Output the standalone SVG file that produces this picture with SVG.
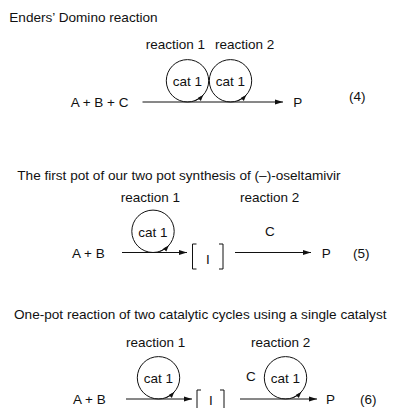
<svg xmlns="http://www.w3.org/2000/svg" width="395" height="408" viewBox="0 0 395 408">
<style>
text{font-family:"Liberation Sans",Arial,sans-serif;font-size:13.5px;fill:#111}
.t{font-size:13.6px}
.m{text-anchor:middle}
.ln{stroke:#111;stroke-width:1;fill:none}
</style>
<defs>
<marker id="ah" markerUnits="userSpaceOnUse" markerWidth="9" markerHeight="6" refX="8.5" refY="2.6" orient="auto">
<path d="M0,0 L8.5,2.6 L0,5.2 z" fill="#111"/>
</marker>
<marker id="sh" markerUnits="userSpaceOnUse" markerWidth="7" markerHeight="5" refX="6" refY="2.2" orient="auto">
<path d="M0,0 L6,2.2 L0,4.4 z" fill="#111"/>
</marker>
</defs>
<rect width="395" height="408" fill="#fff"/>
<g id="titles">
<text class="t" x="9.3" y="21.5">Enders’ Domino reaction</text>
<text class="t" x="17.3" y="179.5">The first pot of our two pot synthesis of (–)-oseltamivir</text>
<text class="t" x="14" y="318.5">One-pot reaction of two catalytic cycles using a single catalyst</text>
</g>
<g id="eq4">
<text x="145.7" y="49.3">reaction 1</text>
<text x="215" y="49.3">reaction 2</text>
<text x="70.7" y="107">A + B + C</text>
<text x="293.3" y="107">P</text>
<text x="349" y="101">(4)</text>
<g id="eq4-cat1"><circle class="ln" cx="187.5" cy="80.8" r="21.2"/><text class="m" x="187.5" y="86">cat 1</text></g>
<g id="eq4-cat2"><circle class="ln" cx="230.5" cy="80.8" r="21.2"/><text class="m" x="230.5" y="86">cat 1</text></g>
</g>
<g id="eq5">
<text x="120.7" y="202">reaction 1</text>
<text x="240" y="202">reaction 2</text>
<text x="72" y="257.5">A + B</text>
<text x="265" y="236">C</text>
<text x="321.7" y="257.5">P</text>
<text x="353" y="257.5">(5)</text>
<g id="eq5-cat1"><circle class="ln" cx="153" cy="231.3" r="21.2"/><text class="m" x="153" y="236.5">cat 1</text></g>
<g id="eq5-I"><path class="ln" d="M196.5,244 H192.5 V269 H196.5 M219,244 H223 V269 H219"/><text class="m" x="207.8" y="263.5">I</text></g>
</g>
<g id="eq6">
<text x="126" y="346.5">reaction 1</text>
<text x="251" y="346.5">reaction 2</text>
<text x="73" y="403.5">A + B</text>
<text x="246" y="381">C</text>
<text x="326" y="403.5">P</text>
<text x="360" y="403.5">(6)</text>
<g id="eq6-cat1"><circle class="ln" cx="158.5" cy="377.8" r="21.2"/><text class="m" x="158.5" y="383">cat 1</text></g>
<g id="eq6-cat2"><circle class="ln" cx="285.5" cy="377.8" r="21.2"/><text class="m" x="285.5" y="383">cat 1</text></g>
<g id="eq6-I"><path class="ln" d="M201,390 H197 V417 H201 M220,390 H224 V417 H220"/><text class="m" x="210.8" y="405">I</text></g>
</g>
<g id="connectors">
<path class="ln" d="M142.5,102 H283" marker-end="url(#ah)"/>
<path class="ln" d="M194.75,100.73 A21.2,21.2 0 0 0 203.25,94.99" marker-end="url(#sh)"/>
<path class="ln" d="M237.75,100.73 A21.2,21.2 0 0 0 246.25,94.99" marker-end="url(#sh)"/>
<path class="ln" d="M122,252.5 H187" marker-end="url(#ah)"/>
<path class="ln" d="M235,252.5 H311" marker-end="url(#ah)"/>
<path class="ln" d="M160.25,251.22 A21.2,21.2 0 0 0 168.75,245.49" marker-end="url(#sh)"/>
<path class="ln" d="M126,399 H192" marker-end="url(#ah)"/>
<path class="ln" d="M240,399 H317" marker-end="url(#ah)"/>
<path class="ln" d="M165.75,397.72 A21.2,21.2 0 0 0 174.25,391.99" marker-end="url(#sh)"/>
<path class="ln" d="M292.75,397.72 A21.2,21.2 0 0 0 301.25,391.99" marker-end="url(#sh)"/>
</g>
</svg>
